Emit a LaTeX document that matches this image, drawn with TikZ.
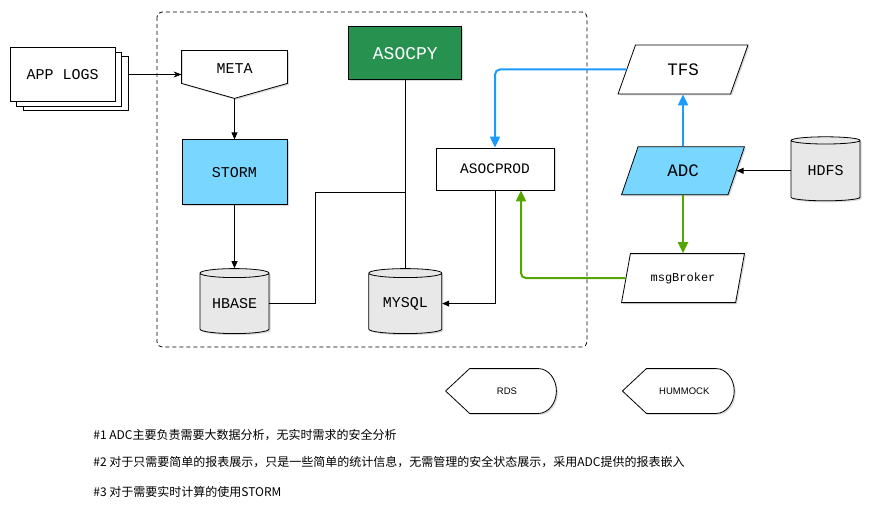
\documentclass[tikz,border=0pt]{standalone}
\usepackage{fontspec}
\setmainfont{Liberation Sans}
\setmonofont{Liberation Mono}
\newfontfamily\cjk{Noto Sans CJK SC}
\usepackage{xcolor}
\usetikzlibrary{arrows.meta,positioning,shapes.geometric,shadows}
\definecolor{stormblue}{HTML}{78D6FF}
\definecolor{asocgreen}{HTML}{279150}
\definecolor{dbgray}{HTML}{E8E8E8}
\definecolor{linkblue}{HTML}{1A9BFF}
\definecolor{linkgreen}{HTML}{55A500}

\begin{document}
\begin{tikzpicture}[
      x=1pt, y=-1pt,
      line width=0.8pt,
      soft_shadow/.style={
         drop shadow={shadow xshift=1.5pt, shadow yshift=-1.5pt, opacity=0.3}},
      plain_box/.style={
         rectangle,
         draw=black,
         fill=white,
         inner sep=0pt,
         font=\ttfamily\fontsize{15}{17}\selectfont},
      pages_box/.style={
         plain_box,
         minimum width=105pt,
         minimum height=54pt,
         double copy shadow={shadow xshift=6.5pt, shadow yshift=-4.5pt}},
      free_box/.style={
         rectangle,
         inner sep=0pt,
         font=\ttfamily\fontsize{15}{17}\selectfont},
      db_cyl/.style={
         cylinder,
         shape border rotate=90,
         aspect=0.2,
         draw=black,
         fill=dbgray,
         inner sep=0pt,
         minimum width=69pt,
         minimum height=65pt,
         soft_shadow,
         font=\ttfamily\fontsize{15}{17}\selectfont},
      para_box/.style={
         trapezium,
         trapezium left angle=64,
         trapezium right angle=116,
         trapezium stretches=true,
         draw=black,
         fill=white,
         inner sep=0pt,
         minimum width=123pt,
         minimum height=48pt,
         soft_shadow,
         font=\ttfamily\fontsize{17.5}{19}\selectfont},
      arrow_black/.style={
        -{Triangle[width=6pt,length=7pt]},
        },
      arrow_thin/.style={
        -{Stealth[width=6pt,length=8pt]},
        },
      arrow_blue/.style={
        -{Triangle[width=10pt,length=11pt]},
        line width=2pt,
        draw=linkblue,
        rounded corners=5pt,
        },
      arrow_green/.style={
        -{Triangle[width=10pt,length=11pt]},
        line width=2pt,
        draw=linkgreen,
        rounded corners=5pt,
        },
      note_text/.style={
         anchor=west,
         inner sep=0pt,
         font=\cjk\fontsize{12}{14}\selectfont}
]
      \useasboundingbox (0,0) rectangle (872,510);

      %platform boundary
      \draw[dash pattern=on 4pt off 3pt, rounded corners=5pt] (157,12) rectangle (587,347);

      %ingest column
      \node[free_box, minimum width=105pt, minimum height=47pt] (meta) at (234.5,74.5) {};
      \draw[fill=white, soft_shadow] (meta.north west) -- (meta.north east)
         -- ([yshift=15pt]meta.south east) -- (meta.south)
         -- ([yshift=15pt]meta.south west) -- cycle;
      \node[free_box] (metalabel) at (234.5,68.5) {META};
      \node[pages_box, left=66pt of meta] (applogs) {APP LOGS};
      \node[plain_box, fill=stormblue, soft_shadow, minimum width=105pt,
            minimum height=65pt, below=41pt of meta] (storm) {STORM};
      \node[db_cyl, below=63pt of storm] (hbase) {HBASE};

      %storage column
      \node[db_cyl, minimum width=73pt, right=99pt of hbase] (mysql) {MYSQL};
      \node[plain_box, fill=asocgreen, text=white, soft_shadow,
            minimum width=113pt, minimum height=53pt,
            font=\ttfamily\fontsize{18}{20}\selectfont,
            above=188pt of mysql] (asocpy) {ASOCPY};
      \node[plain_box, soft_shadow, minimum width=118pt, minimum height=42pt,
            font=\ttfamily\fontsize{14.5}{16}\selectfont] (asocprod) at (495,169) {ASOCPROD};
      \coordinate (joint) at (asocpy.south |- 0,192);

      %analysis column
      \node[para_box, minimum width=130pt, minimum height=49pt] (tfs) at (683,69.5) {TFS};
      \node[para_box, fill=stormblue, below=52pt of tfs] (adc) {ADC};
      \node[para_box, minimum height=49pt, font=\ttfamily\fontsize{12}{14}\selectfont,
            below=58pt of adc] (msgbroker) {msgBroker};
      \node[db_cyl, minimum height=64pt, right=54pt of adc] (hdfs) {HDFS};

      %display legends
      \node[free_box, minimum width=110pt, minimum height=44pt] (rds) at (501,391) {};
      \node[free_box, minimum width=111pt, minimum height=44pt, right=66pt of rds] (hummock) {};
      \foreach \n/\txt in {rds/RDS, hummock/HUMMOCK}{
         \draw[fill=white, soft_shadow] (\n.west) -- ([xshift=24pt]\n.north west)
            -- ([xshift=-18pt]\n.north east)
            .. controls ([xshift=-8pt]\n.north east) and ([yshift=12pt]\n.east) .. (\n.east)
            .. controls ([yshift=-12pt]\n.east) and ([xshift=-8pt]\n.south east) .. ([xshift=-18pt]\n.south east)
            -- ([xshift=24pt]\n.south west) -- cycle;
         \node[font=\fontsize{9.5}{11}\selectfont] (\n label) at ([xshift=6pt]\n.center) {\txt};
      }

      %notes
      \node[note_text] (note1) at (93,435) {\#1 ADC主要负责需要大数据分析，无实时需求的安全分析};
      \node[note_text] (note2) at (93,462) {\#2 对于只需要简单的报表展示，只是一些简单的统计信息，无需管理的安全状态展示，采用ADC提供的报表嵌入};
      \node[note_text] (note3) at (93,492) {\#3 对于需要实时计算的使用STORM};

      %links
      \draw [arrow_thin] ([xshift=13pt]applogs.east) -- (meta.west);
      \foreach \i/\j in {meta.south/storm.north, storm.south/hbase.north, hdfs.west/adc.east}
        \draw [arrow_black] (\i) -- (\j);
      \draw (asocpy.south) -- (mysql.north);
      \draw (hbase.east) -- ++(46,0) |- (joint);
      \draw [arrow_black] (asocprod.south) |- (mysql.east);

      \draw [arrow_blue] (tfs.west) -| (asocprod.north);
      \draw [arrow_blue] (adc.north) -- (tfs.south);
      \draw [arrow_green] (adc.south) -- (msgbroker.north);
      \draw [arrow_green] (msgbroker.west) -| ([xshift=26pt]asocprod.south);

\end{tikzpicture}
\end{document}
